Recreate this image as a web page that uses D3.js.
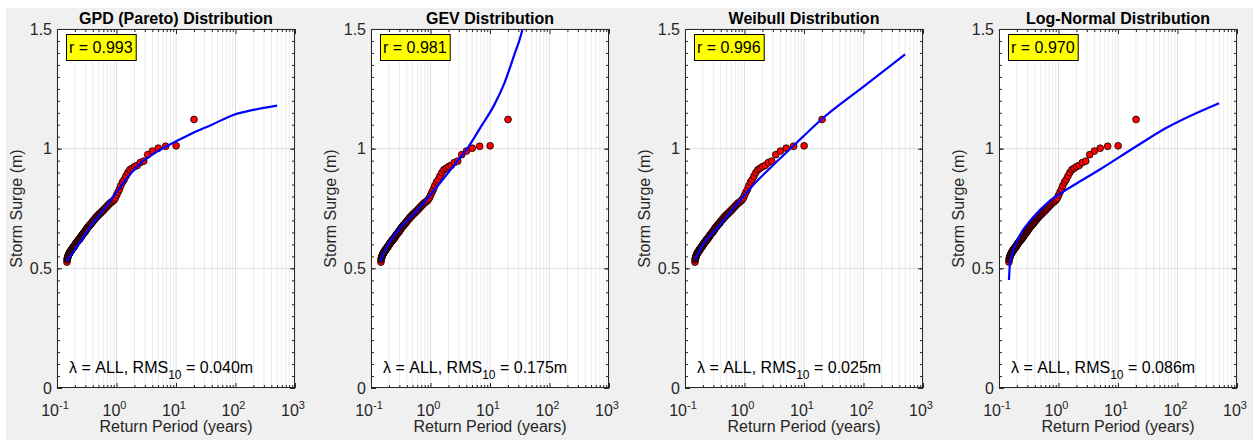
<!DOCTYPE html>
<html>
<head>
<meta charset="utf-8">
<script src="https://cdn.jsdelivr.net/npm/d3@7"></script>
<style>
  html, body { margin: 0; padding: 0; background: #ffffff; }
  svg { display: block; font-family: "Liberation Sans", Arial, Helvetica, sans-serif; }
</style>
</head>
<body>
<svg id="chart" width="1259" height="440"></svg>
<script>
// ---------------- DATA ----------------
const panelTitles = ["GPD (Pareto) Distribution", "GEV Distribution", "Weibull Distribution", "Log-Normal Distribution"];
const rLabels = ["0.993", "0.981", "0.996", "0.970"];
const rmsLabels = ["0.040", "0.175", "0.025", "0.086"];

// observed storm surges (same in all panels): return period (years) and surge (m)
const obsReturnPeriod = [20.1, 10.05, 6.7, 5.03, 4.02, 3.35, 2.87, 2.51, 2.23, 2.01, 1.83, 1.68, 1.55, 1.44, 1.34, 1.26, 1.18, 1.12, 1.06, 1.005,
  0.957, 0.914, 0.874, 0.838, 0.804, 0.773, 0.744, 0.718, 0.693, 0.670, 0.648, 0.628, 0.609, 0.591, 0.574, 0.558, 0.543, 0.529, 0.515, 0.503,
  0.490, 0.479, 0.467, 0.457, 0.447, 0.437, 0.428, 0.419, 0.410, 0.402, 0.394, 0.386, 0.379, 0.372, 0.365, 0.359, 0.353, 0.347, 0.341, 0.335,
  0.330, 0.324, 0.319, 0.314, 0.309, 0.305, 0.300, 0.296, 0.291, 0.287, 0.283, 0.279, 0.275, 0.272, 0.268, 0.265, 0.261, 0.258, 0.254, 0.251,
  0.248, 0.245, 0.242, 0.239, 0.236, 0.234, 0.231, 0.228, 0.226, 0.223, 0.221, 0.218, 0.216, 0.214, 0.212, 0.209, 0.207, 0.205, 0.203, 0.201,
  0.199, 0.197, 0.195, 0.193, 0.191, 0.190, 0.188, 0.186, 0.184, 0.183, 0.181, 0.179, 0.178, 0.176, 0.175, 0.173, 0.172, 0.170, 0.169, 0.168,
  0.166, 0.165, 0.163, 0.162, 0.161, 0.160, 0.158, 0.157, 0.156, 0.155, 0.153, 0.152, 0.151, 0.150, 0.149, 0.148, 0.147];
const obsSurge = [1.122, 1.012, 1.010, 1.002, 0.990, 0.975, 0.948, 0.942, 0.930, 0.925, 0.918, 0.912, 0.900, 0.885, 0.870, 0.860, 0.845, 0.830, 0.818, 0.806,
  0.794, 0.787, 0.782, 0.778, 0.775, 0.771, 0.767, 0.763, 0.759, 0.755, 0.751, 0.748, 0.744, 0.741, 0.738, 0.735, 0.732, 0.729, 0.727, 0.724,
  0.721, 0.719, 0.716, 0.713, 0.711, 0.708, 0.705, 0.702, 0.699, 0.697, 0.694, 0.691, 0.688, 0.686, 0.684, 0.682, 0.680, 0.678, 0.675, 0.673,
  0.671, 0.669, 0.666, 0.664, 0.661, 0.658, 0.656, 0.654, 0.652, 0.650, 0.648, 0.646, 0.644, 0.643, 0.641, 0.639, 0.636, 0.634, 0.632, 0.630,
  0.628, 0.626, 0.624, 0.623, 0.622, 0.620, 0.619, 0.617, 0.616, 0.614, 0.612, 0.611, 0.609, 0.608, 0.607, 0.605, 0.603, 0.601, 0.599, 0.598,
  0.596, 0.594, 0.593, 0.591, 0.590, 0.589, 0.587, 0.586, 0.585, 0.584, 0.582, 0.580, 0.579, 0.578, 0.577, 0.575, 0.574, 0.572, 0.571, 0.570,
  0.568, 0.567, 0.565, 0.564, 0.562, 0.561, 0.559, 0.557, 0.555, 0.553, 0.550, 0.548, 0.545, 0.543, 0.540, 0.536, 0.526];

// fitted curves
const gpdT = [0.145, 0.188, 0.25, 0.359, 0.5, 0.684, 1.0, 1.3, 1.8, 2.48, 3.4, 4.73, 6.8, 9.9, 19.5, 40, 92, 200, 500];
const gpdY = [0.530, 0.570, 0.613, 0.674, 0.718, 0.762, 0.818, 0.857, 0.900, 0.937, 0.963, 0.987, 1.009, 1.030, 1.067, 1.100, 1.141, 1.162, 1.180];
const gevT = [0.1436, 0.1675, 0.217, 0.34, 0.535, 0.895, 1.5, 2.51, 4.2, 7.06, 11.8, 17.4, 25.6, 33.2, 40];
const gevY = [0.528, 0.570, 0.618, 0.681, 0.730, 0.793, 0.862, 0.932, 1.002, 1.092, 1.183, 1.273, 1.392, 1.475, 1.56];
const weiT = [0.147, 0.19, 0.363, 0.69, 1.32, 3.0, 6.6, 19.8, 100, 500];
const weiY = [0.535, 0.590, 0.674, 0.758, 0.841, 0.930, 1.011, 1.123, 1.259, 1.394];
const lnT = [0.147, 0.153, 0.1675, 0.217, 0.363, 0.69, 1.32, 2.51, 4.79, 19.8, 63, 500];
const lnY = [0.451, 0.521, 0.563, 0.632, 0.709, 0.779, 0.827, 0.869, 0.911, 1.008, 1.085, 1.190];

const curveT = [gpdT, gevT, weiT, lnT];
const curveY = [gpdY, gevY, weiY, lnY];

const xMajorExponents = [-1, 0, 1, 2, 3];
const yTickValues = [0, 0.5, 1, 1.5];
const yTickLabels = ["0", "0.5", "1", "1.5"];

// ---------------- LAYOUT ----------------
const svg = d3.select("#chart");
svg.append("rect").attr("x", 6).attr("y", 8).attr("width", 1247).attr("height", 432).attr("fill", "#f0f0f0");

const axLefts = [57, 371, 685, 999];
const axW = 238, axTop = 29, axBottom = 388;
const axisColor = "#262626";

const xMajor = xMajorExponents.map(e => Math.pow(10, e));
const xMinor = [];
for (let e = -1; e < 3; e++) for (let k = 2; k <= 9; k++) xMinor.push(k * Math.pow(10, e));
const yMinor = d3.range(0, 1.5001, 0.05).map(v => +v.toFixed(2));

panelTitles.forEach((title, i) => {
  const left = axLefts[i];
  const x = d3.scaleLog().domain([0.1, 1000]).range([left, left + axW]);
  const y = d3.scaleLinear().domain([0, 1.5]).range([axBottom, axTop]);
  const g = svg.append("g");
  const clipId = "clip" + i;
  g.append("clipPath").attr("id", clipId).append("rect")
    .attr("x", left).attr("y", axTop).attr("width", axW).attr("height", axBottom - axTop);

  g.append("rect").attr("x", left).attr("y", axTop).attr("width", axW).attr("height", axBottom - axTop).attr("fill", "#ffffff");

  // grid
  g.append("g").selectAll("line").data(xMinor).join("line")
    .attr("x1", d => x(d)).attr("x2", d => x(d)).attr("y1", axTop).attr("y2", axBottom)
    .attr("stroke", "#ebebeb").attr("stroke-width", 1);
  g.append("g").selectAll("line").data(xMajor).join("line")
    .attr("x1", d => x(d)).attr("x2", d => x(d)).attr("y1", axTop).attr("y2", axBottom)
    .attr("stroke", "#dedede").attr("stroke-width", 1);
  g.append("g").selectAll("line").data(yTickValues).join("line")
    .attr("x1", left).attr("x2", left + axW).attr("y1", d => y(d)).attr("y2", d => y(d))
    .attr("stroke", "#dedede").attr("stroke-width", 1);

  // observed points
  const pts = obsReturnPeriod.map((t, j) => [t, obsSurge[j]]);
  g.append("g").attr("clip-path", `url(#${clipId})`).selectAll("circle").data(pts.slice().reverse()).join("circle")
    .attr("cx", d => x(d[0])).attr("cy", d => y(d[1])).attr("r", 3.4)
    .attr("fill", "#ff0000").attr("stroke", "#000000").attr("stroke-width", 0.8);

  // fitted curve
  const cdata = curveT[i].map((t, j) => [t, curveY[i][j]]);
  g.append("path").attr("clip-path", `url(#${clipId})`).datum(cdata)
    .attr("d", d3.line().x(d => x(d[0])).y(d => y(d[1])).curve(d3.curveMonotoneX))
    .attr("fill", "none").attr("stroke", "#0000ff").attr("stroke-width", 2.2);

  // axes (inward ticks on all four sides)
  const styleAxis = sel => {
    sel.select(".domain").remove();
    sel.selectAll(".tick line").attr("stroke", axisColor);
  };
  g.append("g").attr("transform", `translate(0,${axBottom})`)
    .call(d3.axisBottom(x).tickValues(xMinor).tickSize(-3).tickFormat("")).call(styleAxis);
  g.append("g").attr("transform", `translate(0,${axBottom})`)
    .call(d3.axisBottom(x).tickValues(xMajor).tickSize(-5).tickFormat("")).call(styleAxis);
  g.append("g").attr("transform", `translate(0,${axTop})`)
    .call(d3.axisTop(x).tickValues(xMinor).tickSize(-3).tickFormat("")).call(styleAxis);
  g.append("g").attr("transform", `translate(0,${axTop})`)
    .call(d3.axisTop(x).tickValues(xMajor).tickSize(-5).tickFormat("")).call(styleAxis);
  g.append("g").attr("transform", `translate(${left},0)`)
    .call(d3.axisLeft(y).tickValues(yMinor).tickSize(-3).tickFormat("")).call(styleAxis);
  const yl = g.append("g").attr("transform", `translate(${left},0)`)
    .call(d3.axisLeft(y).tickValues(yTickValues).tickSize(-5).tickPadding(5)
      .tickFormat((d, k) => yTickLabels[k])).call(styleAxis);
  yl.selectAll("text").attr("font-size", 16).attr("fill", axisColor)
    .attr("font-family", '"Liberation Sans", Arial, sans-serif');
  g.append("g").attr("transform", `translate(${left + axW},0)`)
    .call(d3.axisRight(y).tickValues(yMinor).tickSize(-3).tickFormat("")).call(styleAxis);
  g.append("g").attr("transform", `translate(${left + axW},0)`)
    .call(d3.axisRight(y).tickValues(yTickValues).tickSize(-5).tickFormat("")).call(styleAxis);

  // box
  g.append("rect").attr("x", left + 0.5).attr("y", axTop + 0.5).attr("width", axW - 1).attr("height", axBottom - axTop - 1)
    .attr("fill", "none").attr("stroke", axisColor).attr("stroke-width", 1);

  // x tick labels with superscripts
  xMajorExponents.forEach(e => {
    const t = g.append("text").attr("x", x(Math.pow(10, e)) - 2).attr("y", axBottom + 28)
      .attr("text-anchor", "middle").attr("fill", axisColor).attr("font-size", 16);
    t.append("tspan").text("10");
    t.append("tspan").attr("dy", -7).attr("font-size", 11).text(String(e));
  });

  // title
  g.append("text").attr("x", left + axW / 2).attr("y", 24).attr("text-anchor", "middle")
    .attr("font-size", 16).attr("font-weight", "bold").attr("fill", "#000").text(title);
  // x label
  g.append("text").attr("x", left + axW / 2).attr("y", 432).attr("text-anchor", "middle")
    .attr("font-size", 16).attr("fill", axisColor).text("Return Period (years)");
  // y label
  g.append("text").attr("transform", `translate(${left - 35},${(axTop + axBottom) / 2}) rotate(-90)`)
    .attr("text-anchor", "middle").attr("font-size", 16).attr("fill", axisColor).text("Storm Surge (m)");

  // r box
  const rg = g.append("g");
  const rt = rg.append("text").attr("x", left + 12).attr("y", 53).attr("font-size", 16).attr("fill", "#000")
    .text("r = " + rLabels[i]);
  const bb = rt.node().getBBox();
  rg.insert("rect", "text").attr("x", left + 9.5).attr("y", 34.5).attr("width", bb.width + 6).attr("height", 26)
    .attr("fill", "#ffff00").attr("stroke", "#000").attr("stroke-width", 1);

  // lambda / RMS text
  const lt = g.append("text").attr("x", left + 12).attr("y", 373).attr("font-size", 16).attr("fill", "#000");
  lt.append("tspan").text("\u03bb = ALL, RMS");
  lt.append("tspan").attr("dy", 6).attr("font-size", 12).text("10");
  lt.append("tspan").attr("dy", -6).text(" = " + rmsLabels[i] + "m");
});
</script>
</body>
</html>
